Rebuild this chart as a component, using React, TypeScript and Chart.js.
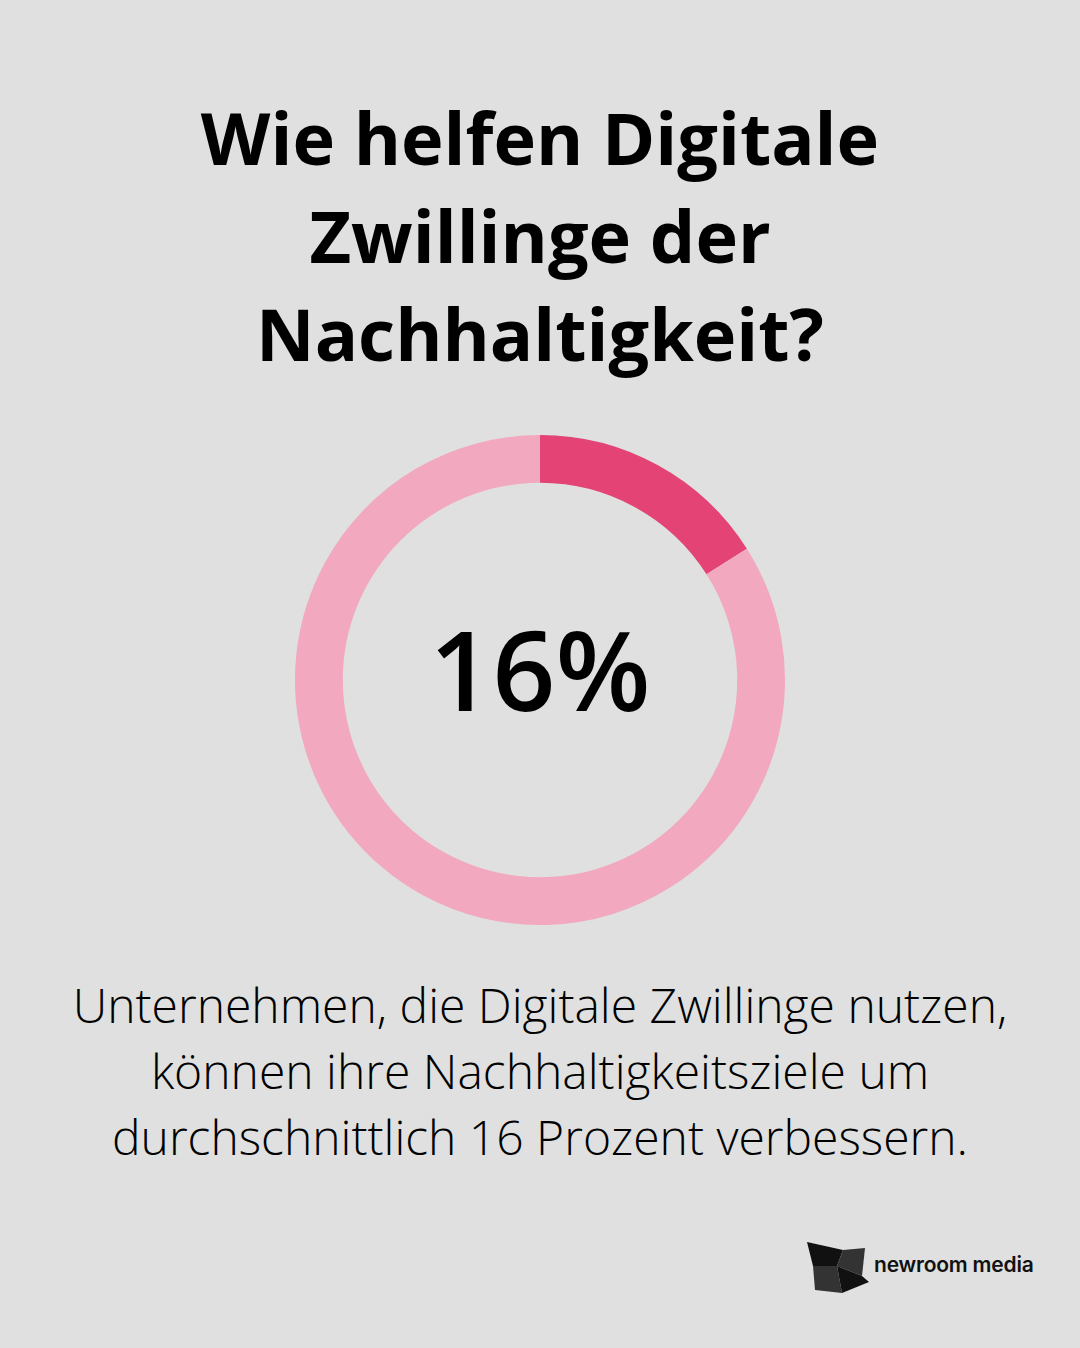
import React, { useEffect, useRef } from "react";
import { Chart, registerables } from "chart.js";

Chart.register(...registerables);

const titleLines = ["Wie helfen Digitale", "Zwillinge der", "Nachhaltigkeit?"];
const sliceLabels = ["Verbesserung", "Rest"];
const sliceValues = [16, 84];
const sliceColors = ["#E44375", "#F2A8BF"];
const centerLabel = "16%";
const bodyLines = [
  "Unternehmen, die Digitale Zwillinge nutzen,",
  "können ihre Nachhaltigkeitsziele um",
  "durchschnittlich 16 Prozent verbessern.",
];
const brand = "newroom media";

export default function App() {
  const ref = useRef<HTMLCanvasElement | null>(null);
  useEffect(() => {
    document.body.style.margin = "0";
    if (!ref.current) return;
    const chart = new Chart(ref.current, {
      type: "doughnut",
      data: {
        labels: sliceLabels,
        datasets: [
          {
            data: sliceValues,
            backgroundColor: sliceColors,
            borderWidth: 0,
            hoverOffset: 0,
          },
        ],
      },
      options: {
        responsive: false,
        animation: false,
        cutout: "80.5%",
        layout: { padding: 0 },
        plugins: { legend: { display: false }, tooltip: { enabled: false } },
        events: [],
      },
    });
    return () => chart.destroy();
  }, []);

  return (
    <div
      style={{
        position: "absolute",
        left: 0,
        top: 0,
        width: 1080,
        height: 1348,
        background: "#DFE0DF",
        fontFamily: "'Open Sans', sans-serif",
        overflow: "hidden",
      }}
    >
      <div
        style={{
          position: "absolute",
          top: 88,
          left: 0,
          width: 1080,
          textAlign: "center",
          fontWeight: 700,
          fontSize: 72,
          lineHeight: "98px",
          color: "#000",
        }}
      >
        {titleLines.map((l, i) => (
          <div key={i}>{l}</div>
        ))}
      </div>
      <canvas
        ref={ref}
        width={490}
        height={490}
        style={{ position: "absolute", left: 295, top: 435, width: 490, height: 490 }}
      />
      <div
        style={{
          position: "absolute",
          top: 593,
          left: 0,
          width: 1080,
          textAlign: "center",
          fontWeight: 600,
          fontSize: 110,
          lineHeight: "150px",
          color: "#000",
        }}
      >
        {centerLabel}
      </div>
      <div
        style={{
          position: "absolute",
          top: 972,
          left: 0,
          width: 1080,
          textAlign: "center",
          fontWeight: 300,
          fontSize: 48,
          lineHeight: "66px",
          color: "#000",
        }}
      >
        {bodyLines.map((l, i) => (
          <div key={i}>{l}</div>
        ))}
      </div>
      <svg
        width={70}
        height={60}
        viewBox="0 0 70 60"
        style={{ position: "absolute", left: 805, top: 1238 }}
      >
        <polygon points="2,4 38,12 32,28 8,28" fill="#111" />
        <polygon points="38,12 60,10 57,38 32,28" fill="#333" />
        <polygon points="8,28 32,28 37,55 10,52" fill="#333" />
        <polygon points="32,28 57,38 64,44 37,55" fill="#111" />
      </svg>
      <div
        style={{
          position: "absolute",
          left: 874,
          top: 1251,
          fontFamily: "Inter, sans-serif",
          fontWeight: 600,
          fontSize: 21,
          lineHeight: "28px",
          color: "#111",
          letterSpacing: "-0.2px",
        }}
      >
        {brand}
      </div>
    </div>
  );
}
